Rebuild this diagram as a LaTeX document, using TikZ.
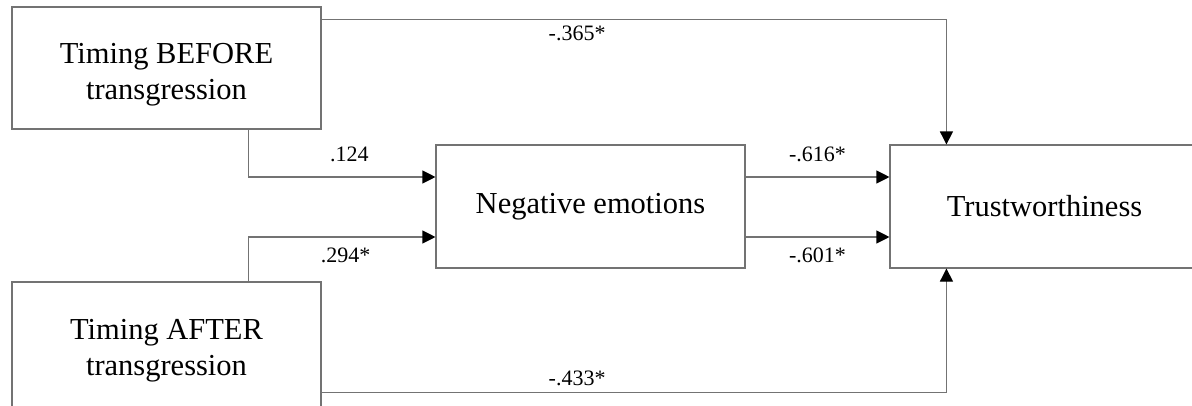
\documentclass[tikz,border=0pt]{standalone}
\usepackage{fontspec}
\setmainfont{Liberation Serif}
\usetikzlibrary{arrows.meta,positioning}
% taller first line, so that two-line labels sit a little lower in their boxes
\newcommand\firstlinestrut[1][34pt]{\rule{0pt}{#1}}
\begin{document}
\begin{tikzpicture}[x=1pt,y=1pt,
  box/.style={draw=black!55,line width=1.1pt,fill=white,inner sep=0pt,
    minimum width=309pt,align=center,font=\fontsize{30.5}{36}\selectfont},
  link/.style={draw=black!55,line width=1.1pt,
    -{Triangle[length=13pt,width=13pt,fill=black,color=black]}},
  coef/.style={inner sep=0pt,font=\fontsize{22}{24}\selectfont}]
  \useasboundingbox (0,0) rectangle (1192,-405);
  \clip (0,0) rectangle (1192,-405);

  % variables
  \node[box,minimum height=122pt] (before) at (166.5,-68)
    {\firstlinestrut Timing BEFORE\\transgression};
  \node[box,minimum height=132pt] (after) at (166.5,-348)
    {\firstlinestrut[26pt]Timing AFTER\\transgression};
  \node[box,minimum height=123pt] (neg) at (590.5,-206.5) {Negative emotions};
  \node[box,minimum height=123pt] (trust) at (1044.5,-206.5) {Trustworthiness};

  % direct paths
  \draw[link] ([yshift=-13pt]before.north east) -| ([xshift=57pt]trust.north west)
    node[coef,pos=0.2045,below=6pt] {-.365*};
  \draw[link] ([yshift=-111pt]after.north east) -| ([xshift=57pt]trust.south west)
    node[coef,pos=0.2045,above=6pt] {-.433*};

  % paths through the mediator
  \draw[link] ([xshift=-73pt]before.south east) |- ([yshift=29.5pt]neg.west)
    node[coef,pos=0.77,above=15pt] {.124};
  \draw[link] ([xshift=-73pt]after.north east) |- ([yshift=-30.5pt]neg.west)
    node[coef,pos=0.76,below=10pt] {.294*};
  \draw[link] ([yshift=29.5pt]neg.east) -- ([yshift=29.5pt]trust.west)
    node[coef,midway,above=15pt] {-.616*};
  \draw[link] ([yshift=-30.5pt]neg.east) -- ([yshift=-30.5pt]trust.west)
    node[coef,midway,below=10pt] {-.601*};
\end{tikzpicture}
\end{document}
